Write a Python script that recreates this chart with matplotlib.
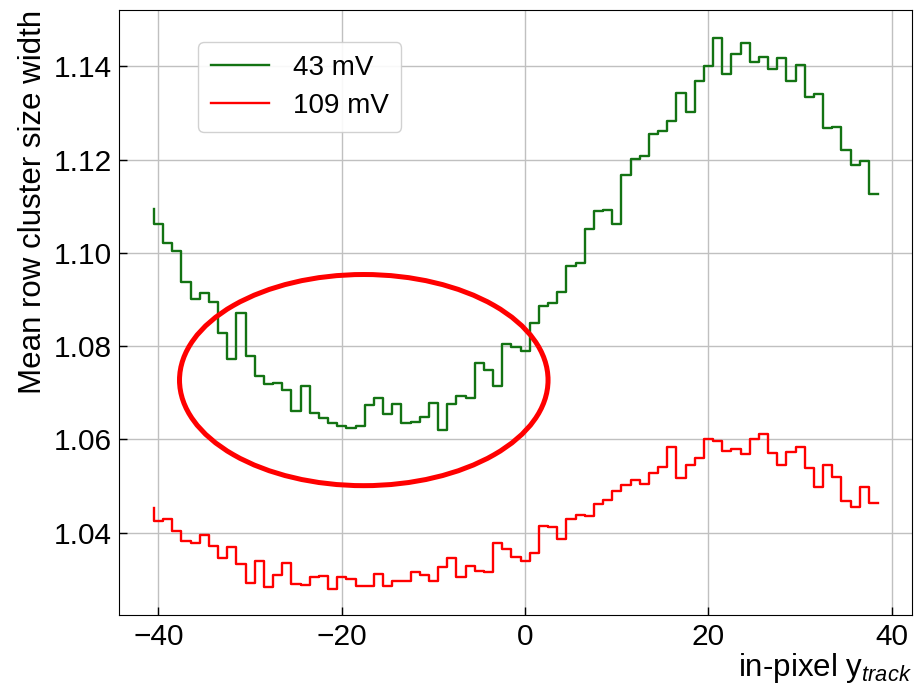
import matplotlib.pyplot as plt
import numpy as np
from matplotlib.patches import Ellipse

plt.rcParams["font.family"] = ["Liberation Sans", "DejaVu Sans"]
plt.rcParams["mathtext.fontset"] = "custom"
plt.rcParams["mathtext.rm"] = "Liberation Sans"
plt.rcParams["mathtext.it"] = "Liberation Sans:italic"
plt.rcParams["mathtext.default"] = "regular"

# in-pixel track position (step edges, one unit apart)
y_track = np.arange(80) - 40.5

width_43mv = [
    1.1095, 1.1062, 1.1022, 1.1005, 1.0938, 1.0901, 1.0913, 1.0895, 1.0829, 1.0772,
    1.0871, 1.0779, 1.0735, 1.0718, 1.0720, 1.0706, 1.0661, 1.0715, 1.0656, 1.0646,
    1.0635, 1.0629, 1.0625, 1.0629, 1.0674, 1.0688, 1.0654, 1.0675, 1.0636, 1.0638,
    1.0648, 1.0678, 1.0619, 1.0675, 1.0693, 1.0689, 1.0763, 1.0748, 1.0715, 1.0804,
    1.0797, 1.0790, 1.0849, 1.0885, 1.0892, 1.0915, 1.0971, 1.0978, 1.1052, 1.1089,
    1.1091, 1.1061, 1.1168, 1.1202, 1.1207, 1.1254, 1.1262, 1.1282, 1.1343, 1.1302,
    1.1368, 1.1401, 1.1462, 1.1383, 1.1427, 1.1451, 1.1409, 1.1420, 1.1395, 1.1418,
    1.1368, 1.1402, 1.1334, 1.1341, 1.1268, 1.1269, 1.1221, 1.1189, 1.1196, 1.1126,
]

width_109mv = [
    1.0452, 1.0424, 1.0429, 1.0404, 1.0381, 1.0378, 1.0395, 1.0371, 1.0345, 1.0368,
    1.0332, 1.0292, 1.0338, 1.0284, 1.0308, 1.0334, 1.0290, 1.0288, 1.0305, 1.0307,
    1.0278, 1.0304, 1.0300, 1.0286, 1.0285, 1.0311, 1.0286, 1.0297, 1.0297, 1.0316,
    1.0309, 1.0297, 1.0325, 1.0346, 1.0305, 1.0328, 1.0318, 1.0316, 1.0378, 1.0364,
    1.0348, 1.0339, 1.0356, 1.0414, 1.0411, 1.0386, 1.0429, 1.0437, 1.0436, 1.0462,
    1.0470, 1.0490, 1.0501, 1.0512, 1.0503, 1.0528, 1.0540, 1.0584, 1.0517, 1.0544,
    1.0559, 1.0600, 1.0596, 1.0575, 1.0580, 1.0568, 1.0601, 1.0611, 1.0570, 1.0544,
    1.0573, 1.0583, 1.0539, 1.0498, 1.0544, 1.0520, 1.0467, 1.0455, 1.0497, 1.0464,
]

x_ticks = [-40, -20, 0, 20, 40]
y_ticks = [1.04, 1.06, 1.08, 1.10, 1.12, 1.14]

fig = plt.figure(figsize=(9.16, 6.86), dpi=100)
ax = fig.add_axes([119 / 916, 71 / 686, 793 / 916, 605 / 686])

ax.step(y_track, width_43mv, where="pre", color="#137313", lw=1.7, label="43 mV")
ax.step(y_track, width_109mv, where="pre", color="red", lw=1.7, label="109 mV")

# highlight the dip region of the low-threshold curve
ax.add_patch(Ellipse((-17.6, 1.0727), 40.2, 0.0453, fill=False,
                     edgecolor="red", lw=3.6, zorder=5))

ax.set_xlim(-44.3, 42.2)
ax.set_ylim(1.0223, 1.1521)
ax.set_xticks(x_ticks)
ax.set_yticks(y_ticks)
ax.grid(True, color="#c0c0c0", lw=1.0)
ax.set_axisbelow(True)
ax.tick_params(direction="in", length=6, width=1, labelsize=21.5)
ax.tick_params(axis="x", pad=6)
ax.tick_params(axis="y", pad=5)

ax.set_xlabel(r"in-pixel y$_{\mathit{track}}$", fontsize=22.5, loc="right", labelpad=-0.5)
ax.set_ylabel("Mean row cluster size width", fontsize=22.5, loc="top")

ax.legend(loc="upper left", bbox_to_anchor=(0.1, 0.947), borderaxespad=0,
          fontsize=20, handlelength=2.1, handletextpad=0.85, borderpad=0.45,
          labelspacing=0.45, edgecolor="#cccccc", framealpha=0.9)

fig.savefig("out.png", dpi=100)
